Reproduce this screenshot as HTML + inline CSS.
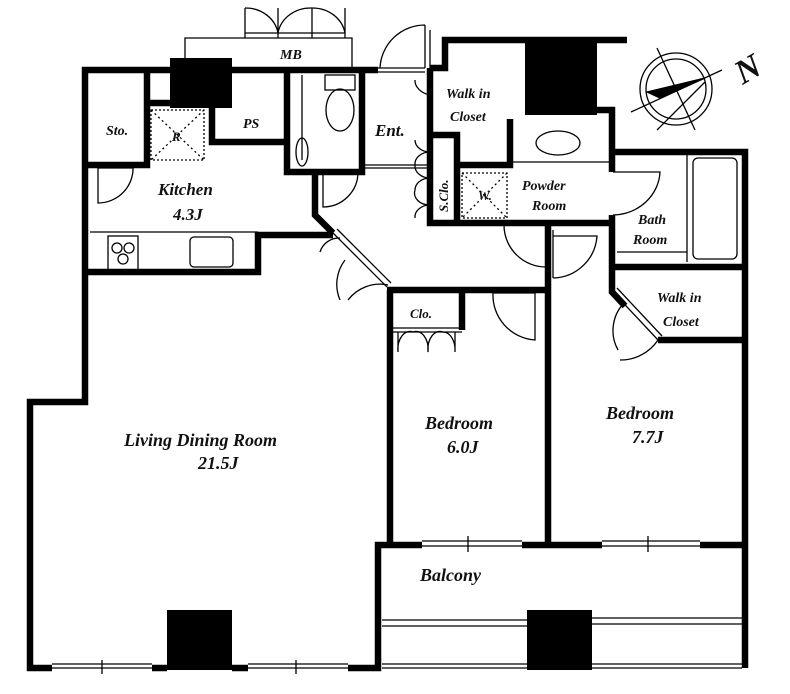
<!DOCTYPE html>
<html><head><meta charset="utf-8"><style>
html,body{margin:0;padding:0;background:#fff;}
svg{display:block;}
text{font-family:"Liberation Serif",serif;font-weight:bold;font-style:italic;fill:#111;}
</style></head><body>
<svg width="790" height="694" viewBox="0 0 790 694" xmlns="http://www.w3.org/2000/svg">
<g fill="none" stroke="#000">
<g stroke-width="1.3">
 <path d="M185 70 V38 H352 V70"/>
 <path d="M245 38 V8 M278 38 V8 M312 38 V8 M345 38 V8 M245 33 H345"/>
 <path d="M245 8 A33 30 0 0 1 278 33 M312 8 A33 30 0 0 0 278 33 M312 8 A33 30 0 0 1 345 33"/>
 <path d="M425 25 V68 M425 25 A45 45 0 0 0 380 68 M378 68 H425 M378 72 H425"/>
 <rect x="325" y="75" width="30" height="15"/>
 <ellipse cx="340" cy="110" rx="14" ry="21"/>
 <path d="M302 75 V160"/><ellipse cx="302" cy="152" rx="6" ry="14"/>
 <path d="M323 172 V207 A35 35 0 0 0 358 172"/>
 <path d="M365 165 H430 M365 168 H430"/>
 <path d="M430 30 V68"/>
 <path d="M430 95 V135 M415 80 A20 15 0 0 0 430 95"/>
 <path d="M98 165 V203 A35 35 0 0 0 133 165 M98 168 H133"/>
 <rect x="151" y="110" width="53" height="50" stroke-dasharray="2,2"/>
 <path d="M151 110 L204 160 M204 110 L151 160" stroke-dasharray="2,3"/>
 <path d="M90 232 H258"/>
 <rect x="108" y="236" width="30" height="34"/>
 <circle cx="117" cy="248" r="5"/><circle cx="129" cy="248" r="5"/><circle cx="123" cy="259" r="5"/>
 <rect x="190" y="237" width="43" height="30" rx="4"/>
 <path d="M333 233 L387 287 M337 229 L391 283"/>
 <path d="M320 252 A20 20 0 0 1 340 238 M345 260 A40 40 0 0 0 340 300 M388 285 A40 40 0 0 0 348 300"/>
 <path d="M430 135 V222 M415 140 A15 12 0 0 0 430 152 M415 165 A15 12 0 0 1 430 152 M415 165 A15 12 0 0 0 430 178 M415 190 A15 12 0 0 1 430 178 M415 190 A15 12 0 0 0 430 205 M415 218 A15 12 0 0 1 430 205"/>
 <rect x="462" y="173" width="45" height="45" stroke-dasharray="2,2"/>
 <path d="M462 173 L507 218 M507 173 L462 218" stroke-dasharray="2,3"/>
 <path d="M510 162 H612"/>
 <ellipse cx="558" cy="143" rx="22" ry="12"/>
 <path d="M504 225 A42 42 0 0 0 546 267 V225"/>
 <path d="M550 230 V278 M553 230 V278 M553 236 H597 A45 45 0 0 1 553 278"/>
 <path d="M613 172 H660 A48 45 0 0 1 613 215"/>
 <path d="M687 155 V262 M617 252 H687"/>
 <rect x="693" y="158" width="44" height="101" rx="5"/>
 <path d="M613 292 L658 340 M617 288 L662 336"/>
 <path d="M625 302 A40 40 0 0 0 618 350 M658 340 A45 45 0 0 1 620 360"/>
 <path d="M392 328 H462 M392 332 H462"/>
 <path d="M398 332 V352 M455 332 V352 M398 352 A12 18 0 0 1 413 332 M428 352 A12 18 0 0 0 413 332 M428 352 A12 18 0 0 1 443 332 M455 352 A12 18 0 0 0 443 332"/>
 <path d="M493 293 H535 V340 A45 45 0 0 1 493 293"/>
 <path d="M382 620 H527 M382 626 H527 M592 618 H742 M592 624 H742 M382 664 H742 M382 668 H742"/>
 <path d="M422 541 H522 M422 546 H522 M602 541 H700 M602 546 H700 M52 664 H152 M52 668 H152 M248 664 H348 M248 668 H348"/>
 <path d="M468 536 V552 M648 536 V552 M102 660 V674 M296 660 V674"/>
</g>
<g stroke-width="6.5" stroke-linejoin="miter">
 <path d="M378 70 H85 V402 H30 V668 H52 M152 668 H167"/>
 <path d="M232 668 H248 M348 668 H378 V545 H422 M522 545 H602 M700 545 H745"/>
 <path d="M147 70 V165 H88 M147 165 V103 H170"/>
 <path d="M212 108 V142 H285"/>
 <path d="M287 70 V172 H362 V70"/>
 <path d="M315 172 V215 L333 233"/>
 <path d="M88 272 H258 V235 H333"/>
 <path d="M387 290 H548 V225 M390 290 V545 M548 290 V545"/>
 <path d="M462 293 V330"/>
 <path d="M430 68 H445 V40 H627 M430 68 V223 H612 M430 135 H457 V223 M457 165 H510 V119 M597 110 H612 V172 M612 215 V292 L625 306 M658 340 H745"/>
 <path d="M612 152 H745 V668 M612 267 H745"/>
</g>
</g>
<g fill="#000">
 <rect x="170" y="58" width="62" height="50"/>
 <rect x="525" y="40" width="72" height="75"/>
 <rect x="167" y="610" width="65" height="60"/>
 <rect x="527" y="610" width="65" height="60"/>
</g>
<g stroke="#000" fill="none" stroke-width="1.3">
 <circle cx="676" cy="89" r="36"/><circle cx="676" cy="89" r="30"/>
 <path d="M631 112 L722 70 M657 48 L695 130 M657 130 L705 82"/>
 <path d="M647 92 L705 78 L660 98 Z" fill="#000"/>
</g>
<text x="735" y="80" font-size="34" font-style="normal" transform="rotate(-30 748 68)">N</text>
<g font-size="15">
 <text x="280" y="59" font-size="14">MB</text>
 <text x="106" y="135" font-size="14">Sto.</text>
 <text x="172" y="141" font-size="13">R</text>
 <text x="243" y="128" font-size="14">PS</text>
 <text x="375" y="136" font-size="17">Ent.</text>
 <text x="446" y="98" font-size="14">Walk in</text>
 <text x="450" y="121" font-size="14">Closet</text>
 <text x="158" y="195" font-size="17">Kitchen</text>
 <text x="173" y="220" font-size="17">4.3J</text>
 <text x="478" y="200" font-size="13">W.</text>
 <text x="522" y="190" font-size="14">Powder</text>
 <text x="532" y="210" font-size="14">Room</text>
 <text x="638" y="224" font-size="14">Bath</text>
 <text x="633" y="244" font-size="14">Room</text>
 <text x="657" y="302" font-size="14">Walk in</text>
 <text x="663" y="326" font-size="14">Closet</text>
 <text x="410" y="318" font-size="13">Clo.</text>
 <text x="124" y="446" font-size="18">Living Dining Room</text>
 <text x="198" y="469" font-size="18">21.5J</text>
 <text x="425" y="429" font-size="18">Bedroom</text>
 <text x="447" y="453" font-size="18">6.0J</text>
 <text x="606" y="419" font-size="18">Bedroom</text>
 <text x="632" y="443" font-size="18">7.7J</text>
 <text x="420" y="581" font-size="18">Balcony</text>
</g>
<text x="448" y="212" font-size="13" transform="rotate(-90 448 212)">S.Clo.</text>
</svg>
</body></html>
